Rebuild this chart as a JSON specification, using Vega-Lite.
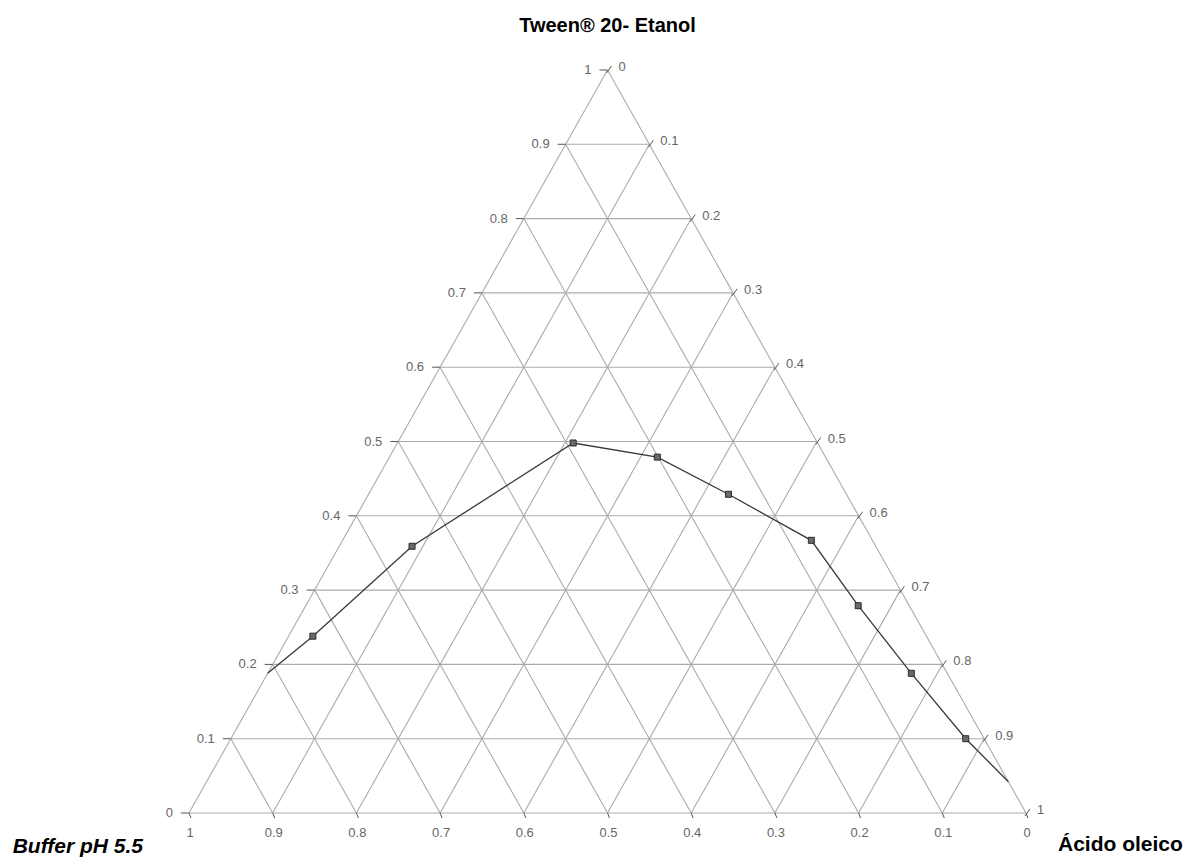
{
  "$schema": "https://vega.github.io/schema/vega-lite/v6.json",
  "width": 1194,
  "height": 857,
  "padding": 0,
  "autosize": "none",
  "background": "white",
  "view": {"stroke": null},
  "config": {"font": "Liberation Sans"},
  "datasets": {
    "rejilla": [
      {"t1": 0, "o1": 0, "t2": 0, "o2": 1},
      {"t1": 0.1, "o1": 0, "t2": 0.1, "o2": 0.9},
      {"t1": 0.2, "o1": 0, "t2": 0.2, "o2": 0.8},
      {"t1": 0.3, "o1": 0, "t2": 0.3, "o2": 0.7},
      {"t1": 0.4, "o1": 0, "t2": 0.4, "o2": 0.6},
      {"t1": 0.5, "o1": 0, "t2": 0.5, "o2": 0.5},
      {"t1": 0.6, "o1": 0, "t2": 0.6, "o2": 0.4},
      {"t1": 0.7, "o1": 0, "t2": 0.7, "o2": 0.3},
      {"t1": 0.8, "o1": 0, "t2": 0.8, "o2": 0.2},
      {"t1": 0.9, "o1": 0, "t2": 0.9, "o2": 0.1},
      {"t1": 0, "o1": 0, "t2": 1, "o2": 0},
      {"t1": 0, "o1": 0.1, "t2": 0.9, "o2": 0.1},
      {"t1": 0, "o1": 0.2, "t2": 0.8, "o2": 0.2},
      {"t1": 0, "o1": 0.3, "t2": 0.7, "o2": 0.3},
      {"t1": 0, "o1": 0.4, "t2": 0.6, "o2": 0.4},
      {"t1": 0, "o1": 0.5, "t2": 0.5, "o2": 0.5},
      {"t1": 0, "o1": 0.6, "t2": 0.4, "o2": 0.6},
      {"t1": 0, "o1": 0.7, "t2": 0.3, "o2": 0.7},
      {"t1": 0, "o1": 0.8, "t2": 0.2, "o2": 0.8},
      {"t1": 0, "o1": 0.9, "t2": 0.1, "o2": 0.9},
      {"t1": 0, "o1": 1, "t2": 1, "o2": 0},
      {"t1": 0, "o1": 0.9, "t2": 0.9, "o2": 0},
      {"t1": 0, "o1": 0.8, "t2": 0.8, "o2": 0},
      {"t1": 0, "o1": 0.7, "t2": 0.7, "o2": 0},
      {"t1": 0, "o1": 0.6, "t2": 0.6, "o2": 0},
      {"t1": 0, "o1": 0.5, "t2": 0.5, "o2": 0},
      {"t1": 0, "o1": 0.4, "t2": 0.4, "o2": 0},
      {"t1": 0, "o1": 0.3, "t2": 0.3, "o2": 0},
      {"t1": 0, "o1": 0.2, "t2": 0.2, "o2": 0},
      {"t1": 0, "o1": 0.1, "t2": 0.1, "o2": 0}
    ],
    "niveles": [
      {"v": 0}, {"v": 0.1}, {"v": 0.2}, {"v": 0.3}, {"v": 0.4}, {"v": 0.5},
      {"v": 0.6}, {"v": 0.7}, {"v": 0.8}, {"v": 0.9}, {"v": 1}
    ],
    "curva": [
      {"buffer": 0.812, "tween": 0.188, "oleico": 0.0},
      {"buffer": 0.733, "tween": 0.238, "oleico": 0.029},
      {"buffer": 0.554, "tween": 0.359, "oleico": 0.087},
      {"buffer": 0.292, "tween": 0.498, "oleico": 0.21},
      {"buffer": 0.201, "tween": 0.479, "oleico": 0.32},
      {"buffer": 0.141, "tween": 0.429, "oleico": 0.43},
      {"buffer": 0.073, "tween": 0.367, "oleico": 0.56},
      {"buffer": 0.061, "tween": 0.279, "oleico": 0.66},
      {"buffer": 0.043, "tween": 0.188, "oleico": 0.769},
      {"buffer": 0.022, "tween": 0.1, "oleico": 0.878},
      {"buffer": 0.0, "tween": 0.042, "oleico": 0.958}
    ],
    "vertices": [
      {"componente": "Tween® 20- Etanol", "buffer": 0, "tween": 1, "oleico": 0},
      {"componente": "Buffer pH 5.5", "buffer": 1, "tween": 0, "oleico": 0},
      {"componente": "Ácido oleico", "buffer": 0, "tween": 0, "oleico": 1}
    ]
  },
  "encoding": {
    "x": {"type": "quantitative", "scale": {"domain": [-0.2258, 1.2007], "nice": false, "zero": false}, "axis": null},
    "y": {"type": "quantitative", "scale": {"domain": [-0.0592, 1.0942], "nice": false, "zero": false}, "axis": null}
  },
  "layer": [
    {
      "data": {"name": "rejilla"},
      "transform": [
        {"calculate": "datum.o1 + datum.t1 / 2", "as": "x1"},
        {"calculate": "datum.o2 + datum.t2 / 2", "as": "x2"}
      ],
      "mark": {"type": "rule", "color": "#ababab", "strokeWidth": 1.1},
      "encoding": {
        "x": {"field": "x1", "type": "quantitative"},
        "x2": {"field": "x2"},
        "y": {"field": "t1", "type": "quantitative"},
        "y2": {"field": "t2"}
      }
    },
    {
      "data": {"name": "niveles"},
      "transform": [{"calculate": "datum.v / 2", "as": "px"}],
      "mark": {"type": "rule", "color": "#555555", "strokeWidth": 1, "x2Offset": -8},
      "encoding": {
        "x": {"field": "px", "type": "quantitative"},
        "x2": {"field": "px"},
        "y": {"field": "v", "type": "quantitative"},
        "y2": {"field": "v"}
      }
    },
    {
      "data": {"name": "niveles"},
      "transform": [{"calculate": "datum.v / 2", "as": "px"}],
      "mark": {"type": "text", "align": "right", "baseline": "middle", "dx": -16, "fontSize": 13, "color": "#666666"},
      "encoding": {
        "x": {"field": "px", "type": "quantitative"},
        "y": {"field": "v", "type": "quantitative"},
        "text": {"field": "v", "type": "quantitative", "format": ".1~f"}
      }
    },
    {
      "data": {"name": "niveles"},
      "transform": [
        {"calculate": "(1 + datum.v) / 2", "as": "px"},
        {"calculate": "1 - datum.v", "as": "py"}
      ],
      "mark": {"type": "rule", "color": "#555555", "strokeWidth": 1, "xOffset": -1, "yOffset": 3, "x2Offset": 4, "y2Offset": -4},
      "encoding": {
        "x": {"field": "px", "type": "quantitative"},
        "x2": {"field": "px"},
        "y": {"field": "py", "type": "quantitative"},
        "y2": {"field": "py"}
      }
    },
    {
      "data": {"name": "niveles"},
      "transform": [
        {"calculate": "(1 + datum.v) / 2", "as": "px"},
        {"calculate": "1 - datum.v", "as": "py"}
      ],
      "mark": {"type": "text", "align": "left", "baseline": "middle", "dx": 11, "dy": -3, "fontSize": 13, "color": "#666666"},
      "encoding": {
        "x": {"field": "px", "type": "quantitative"},
        "y": {"field": "py", "type": "quantitative"},
        "text": {"field": "v", "type": "quantitative", "format": ".1~f"}
      }
    },
    {
      "data": {"name": "niveles"},
      "transform": [{"calculate": "1 - datum.v", "as": "px"}],
      "mark": {"type": "rule", "color": "#555555", "strokeWidth": 1, "x2Offset": 2, "y2Offset": 5},
      "encoding": {
        "x": {"field": "px", "type": "quantitative"},
        "x2": {"field": "px"},
        "y": {"datum": 0, "type": "quantitative"},
        "y2": {"datum": 0}
      }
    },
    {
      "data": {"name": "niveles"},
      "transform": [{"calculate": "1 - datum.v", "as": "px"}],
      "mark": {"type": "text", "align": "center", "baseline": "middle", "dy": 20, "dx": 1, "fontSize": 13, "color": "#666666"},
      "encoding": {
        "x": {"field": "px", "type": "quantitative"},
        "y": {"datum": 0, "type": "quantitative"},
        "text": {"field": "v", "type": "quantitative", "format": ".1~f"}
      }
    },
    {
      "data": {"name": "curva"},
      "transform": [{"calculate": "datum.oleico + datum.tween / 2", "as": "px"}],
      "mark": {"type": "line", "color": "#383838", "strokeWidth": 1.3},
      "encoding": {
        "x": {"field": "px", "type": "quantitative"},
        "y": {"field": "tween", "type": "quantitative"},
        "order": {"field": "oleico", "type": "quantitative"}
      }
    },
    {
      "data": {"name": "curva"},
      "transform": [
        {"filter": "datum.buffer > 0.005 && datum.oleico > 0.005"},
        {"calculate": "datum.oleico + datum.tween / 2", "as": "px"}
      ],
      "mark": {"type": "square", "size": 36, "filled": true, "fill": "#6a6a6a", "stroke": "#2a2a2a", "strokeWidth": 1, "opacity": 1},
      "encoding": {
        "x": {"field": "px", "type": "quantitative"},
        "y": {"field": "tween", "type": "quantitative"}
      }
    },
    {
      "data": {"name": "vertices"},
      "transform": [
        {"filter": "datum.tween == 1"},
        {"calculate": "datum.oleico + datum.tween / 2", "as": "px"}
      ],
      "mark": {"type": "text", "align": "center", "baseline": "alphabetic", "dy": -38, "fontSize": 20, "fontWeight": "bold", "color": "#000000"},
      "encoding": {
        "x": {"field": "px", "type": "quantitative"},
        "y": {"field": "tween", "type": "quantitative"},
        "text": {"field": "componente"}
      }
    },
    {
      "data": {"name": "vertices"},
      "transform": [
        {"filter": "datum.buffer == 1"},
        {"calculate": "datum.oleico + datum.tween / 2", "as": "px"}
      ],
      "mark": {"type": "text", "align": "right", "baseline": "alphabetic", "dx": -46, "dy": 40, "fontSize": 21, "fontWeight": "bold", "fontStyle": "italic", "color": "#000000"},
      "encoding": {
        "x": {"field": "px", "type": "quantitative"},
        "y": {"field": "tween", "type": "quantitative"},
        "text": {"field": "componente"}
      }
    },
    {
      "data": {"name": "vertices"},
      "transform": [
        {"filter": "datum.oleico == 1"},
        {"calculate": "datum.oleico + datum.tween / 2", "as": "px"}
      ],
      "mark": {"type": "text", "align": "left", "baseline": "alphabetic", "dx": 32, "dy": 38, "fontSize": 21, "fontWeight": "bold", "color": "#000000"},
      "encoding": {
        "x": {"field": "px", "type": "quantitative"},
        "y": {"field": "tween", "type": "quantitative"},
        "text": {"field": "componente"}
      }
    }
  ]
}
